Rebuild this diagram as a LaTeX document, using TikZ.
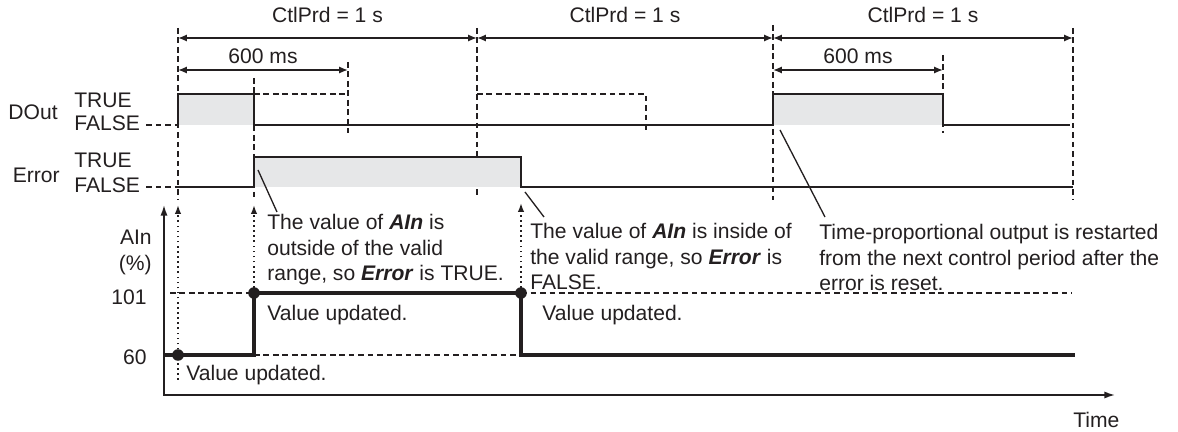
\documentclass[tikz,border=0pt]{standalone}
\usepackage{fontspec}
\setmainfont{Liberation Sans}
\usepackage{tikz}
\usetikzlibrary{arrows.meta, positioning, calc}
\definecolor{inkblack}{HTML}{231F20}
\definecolor{shadegray}{HTML}{E6E7E8}
\newcommand{\bi}[1]{\textbf{\textit{#1}}}

\begin{document}
\begin{tikzpicture}[
  x=0.02cm, y=-0.02cm,
  font=\fontsize{12}{14.6}\selectfont, text=inkblack,
  txt/.style={inner sep=0pt, anchor=west, align=left},
  note/.style={inner sep=0pt, anchor=north west, align=left},
  wave/.style={line width=1pt, draw=inkblack},
  trace/.style={line width=2.8pt, draw=inkblack},
  guide/.style={line width=0.9pt, draw=inkblack, dash pattern=on 3.2pt off 2.2pt},
  shade/.style={fill=shadegray},
  dim/.style={<->, >={Latex[length=5pt, width=4pt]}, line width=0.9pt, draw=inkblack},
  upd/.style={->, >={Latex[length=5pt, width=3.6pt]}, line width=0.9pt, dotted, draw=inkblack},
  axis/.style={<->, >={Latex[length=6pt, width=4pt]}, line width=0.9pt, draw=inkblack},
  leader/.style={line width=0.75pt, draw=inkblack},
  dot/.style={circle, fill=inkblack, inner sep=0pt, minimum size=6.6pt}
]
  \useasboundingbox (0,0) rectangle (1178,432);

  % signal names
  \node[inner sep=0pt, anchor=east] (dout) at (58,112) {DOut};
  \node[txt] (douttrue) at (74,100) {TRUE};
  \node[txt] (doutfalse) at (74,123) {FALSE};
  \node[inner sep=0pt, anchor=east] (err) at (60,175) {Error};
  \node[txt] (errtrue) at (74,160) {TRUE};
  \node[txt] (errfalse) at (74,185) {FALSE};

  % time marks
  \coordinate (p0) at (178,38);  \coordinate (p1) at (477,38);
  \coordinate (p2) at (773,38);  \coordinate (p3) at (1073,38);
  \coordinate (q0) at (178,70);  \coordinate (q1) at (348,70);
  \coordinate (q2) at (773,70);  \coordinate (q3) at (943,70);

  \draw[guide] (178,28) -- (178,200);
  \draw[guide] (254,78) -- (254,200);
  \draw[guide] (348,62) -- (348,133);
  \draw[guide] (477,28) -- (477,198);
  \draw[guide] (773,25) -- (773,200);
  \draw[guide] (943,55) -- (943,133);
  \draw[guide] (1073,28) -- (1073,200);

  \draw[dim] (p0) -- node[above=8pt, inner sep=0pt] (prd1) {CtlPrd = 1 s} (p1);
  \draw[dim] (p1) -- node[above=8pt, inner sep=0pt] (prd2) {CtlPrd = 1 s} (p2);
  \draw[dim] (p2) -- node[above=8pt, inner sep=0pt] (prd3) {CtlPrd = 1 s} (p3);
  \draw[dim] (q0) -- node[above=3.4pt, inner sep=0pt] (on1) {600 ms} (q1);
  \draw[dim] (q2) -- node[above=3.4pt, inner sep=0pt] (on2) {600 ms} (q3);

  % DOut
  \fill[shade] (178,94) rectangle (254,125);
  \fill[shade] (773,94) rectangle (943,125);
  \draw[guide] (doutfalse.east) ++(6,2) -- (178,125);
  \draw[wave] (178,125) -- (178,94) -- (254,94) -- (254,125) -- (773,125)
    -- (773,94) -- (943,94) -- (943,125) -- (1070,125);
  \draw[guide] (254,94) -- (348,94);
  \draw[guide] (477,94) -- (646,94) -- (646,133);

  % Error
  \fill[shade] (254,157) rectangle (521,187);
  \draw[guide] (errfalse.east) ++(6,2) -- (178,187);
  \draw[wave] (178,187) -- (254,187) -- (254,157) -- (521,157) -- (521,187) -- (1073,187);

  % AIn
  \coordinate (ytop) at (164,205);
  \coordinate (xend) at (1115,395);
  \draw[axis] (ytop) |- (xend);
  \node[inner sep=0pt, anchor=east] (ain) at (152,237) {AIn};
  \node[inner sep=0pt, anchor=east] (pct) at (152,265) {(\%)};
  \node[inner sep=0pt, anchor=east] (hi) at (147,297) {101};
  \node[inner sep=0pt, anchor=east] (lo) at (147,357) {60};
  \node[inner sep=0pt, anchor=west] (time) at (1073,420) {Time};

  \draw[guide] (170,293) -- (1072,293);
  \draw[guide] (254,355) -- (521,355);
  \draw[trace] (164,355) -- (254,355) -- (254,293) -- (521,293) -- (521,355) -- (1075,355);

  \node[dot] (d0) at (178,355) {};
  \node[dot] (d1) at (254,293) {};
  \node[dot] (d2) at (521,293) {};
  \draw[upd] (178,380) -- (178,205);
  \draw[upd] (d1.center) -- (254,205);
  \draw[upd] (d2.center) -- (521,203);

  \node[txt] (upd0) at (186,375) {Value updated.};
  \node[txt] (upd1) at (267,315) {Value updated.};
  \node[txt] (upd2) at (542,315) {Value updated.};

  % notes
  \node[note] (noteout) at (267,214) {The value of \bi{AIn} is\\outside of the valid\\range, so \bi{Error} is TRUE.};
  \node[note] (notein) at (530,223) {The value of \bi{AIn} is inside of\\the valid range, so \bi{Error} is\\FALSE.};
  \node[note] (noterst) at (819,224) {Time-proportional output is restarted\\from the next control period after the\\error is reset.};

  \coordinate (errup) at (258,170);
  \coordinate (errdown) at (525,192);
  \coordinate (restart) at (780,130);
  \draw[leader] (errup) -- ($(noteout.north west)+(10,-2)$);
  \draw[leader] (errdown) -- ($(notein.north west)+(14,-6)$);
  \draw[leader] (restart) -- ($(noterst.north west)+(6,-7)$);
\end{tikzpicture}
\end{document}
